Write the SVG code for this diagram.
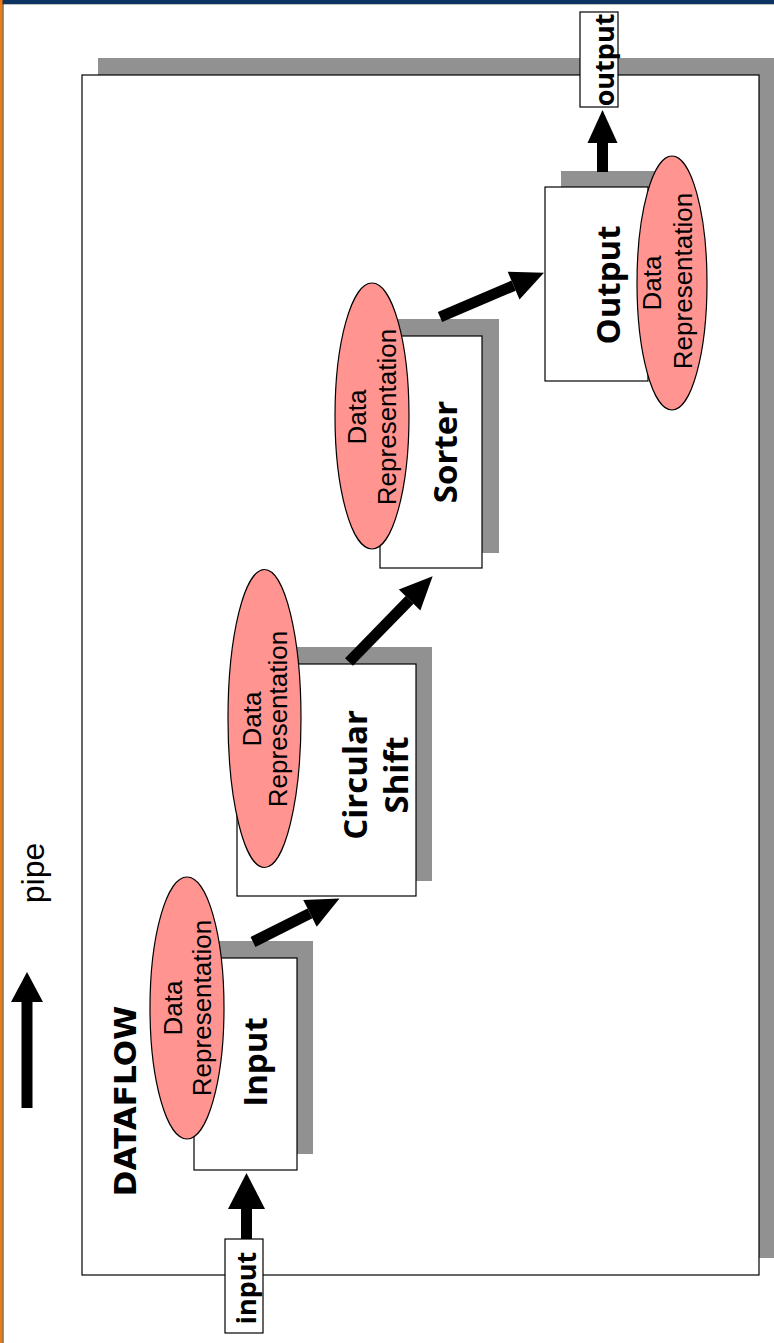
<svg xmlns="http://www.w3.org/2000/svg" width="774" height="1343" viewBox="0 0 774 1343">
<defs>
<style>
.shadow{fill:#919191}
.box{fill:#fff;stroke:#000;stroke-width:1.2}
.ell{fill:#ff9490;stroke:#000;stroke-width:1.2}
.dr{font-family:"Liberation Sans",Arial,sans-serif;font-size:26px;fill:#000;text-anchor:middle}
.nl{font-family:"Open Sans","DejaVu Sans",sans-serif;font-weight:bold;font-size:33px;fill:#000;text-anchor:middle}
.io{font-family:"Open Sans","DejaVu Sans",sans-serif;font-weight:bold;font-size:27px;fill:#000;text-anchor:middle}
.conn{stroke:#000;stroke-width:11;fill:none}
.lbl{fill:#fff;stroke:#000;stroke-width:1.2}
</style>
<marker id="ah" markerUnits="userSpaceOnUse" markerWidth="34" markerHeight="32" refX="0" refY="15" orient="auto" overflow="visible"><path d="M0,0 L33,15 L0,30 z" fill="#000"/></marker>
<marker id="ahL" markerUnits="userSpaceOnUse" markerWidth="37" markerHeight="38" refX="0" refY="18.5" orient="auto" overflow="visible"><path d="M0,0 L36,18.5 L0,37 z" fill="#000"/></marker>
</defs>
<rect x="0" y="0" width="774" height="1343" fill="#fff"/>
<g id="frame">
<rect x="0" y="0" width="774" height="4" fill="#0d3360"/>
<line x1="0" y1="4.5" x2="774" y2="4.5" stroke="#bdbdbd" stroke-width="1"/>
<rect x="0" y="0" width="2.5" height="1343" fill="#f07a10"/>
<line x1="3" y1="4" x2="3" y2="1343" stroke="#3a2a10" stroke-width="1"/>
</g>
<g id="dataflow">
<rect class="shadow" x="98" y="58" width="677" height="1200"/>
<rect x="82" y="75" width="677" height="1200" fill="#fff" stroke="#000" stroke-width="1.2"/>
<text transform="translate(136,1101) rotate(-90)" font-family="'DejaVu Sans',sans-serif" font-weight="bold" font-size="31" text-anchor="middle">DATAFLOW</text>
</g>
<g id="legend">
<line x1="27" y1="1108" x2="27" y2="1002" stroke="#000" stroke-width="11"/>
<path d="M11,1002 L43,1002 L27,972 z" fill="#000"/>
<text transform="translate(44,873) rotate(-90)" font-family="'Liberation Sans',Arial,sans-serif" font-size="32" text-anchor="middle">pipe</text>
</g>
<g id="node-input">
<rect class="shadow" x="210" y="941" width="103" height="213"/>
<rect class="box" x="194" y="958" width="103" height="212"/>
<ellipse class="ell" cx="187" cy="1008" rx="37" ry="131"/>
<text class="dr" transform="translate(182,1008) rotate(-90)">Data</text>
<text class="dr" transform="translate(211,1008) rotate(-90)">Representation</text>
<text class="nl" transform="translate(267,1062) rotate(-90)">Input</text>
</g>
<g id="node-circular-shift">
<rect class="shadow" x="253" y="647" width="179" height="234"/>
<rect class="box" x="237" y="664" width="179" height="232"/>
<ellipse class="ell" cx="264.5" cy="718.5" rx="36.5" ry="149"/>
<text class="dr" transform="translate(261,719) rotate(-90)">Data</text>
<text class="dr" transform="translate(287,719) rotate(-90)">Representation</text>
<text class="nl" transform="translate(367,775) rotate(-90)">Circular</text>
<text class="nl" transform="translate(408,775) rotate(-90)">Shift</text>
</g>
<g id="node-sorter">
<rect class="shadow" x="396" y="319" width="103" height="234"/>
<rect class="box" x="380" y="336" width="102" height="232"/>
<ellipse class="ell" cx="372" cy="416" rx="37" ry="133"/>
<text class="dr" transform="translate(366,417) rotate(-90)">Data</text>
<text class="dr" transform="translate(396,417) rotate(-90)">Representation</text>
<text class="nl" transform="translate(457,452) rotate(-90)">Sorter</text>
</g>
<g id="node-output">
<rect class="shadow" x="561" y="171" width="103" height="194"/>
<rect class="box" x="545" y="187" width="103" height="194"/>
<ellipse class="ell" cx="672" cy="283" rx="35" ry="127"/>
<text class="dr" transform="translate(661,283) rotate(-90)">Data</text>
<text class="dr" transform="translate(692,281) rotate(-90)">Representation</text>
<text class="nl" transform="translate(620,285) rotate(-90)">Output</text>
</g>
<g id="label-input">
<rect class="lbl" x="225" y="1239" width="38" height="94"/>
<text class="io" transform="translate(256,1288) rotate(-90)">input</text>
</g>
<g id="label-output">
<rect class="lbl" x="580" y="12" width="38" height="95"/>
<text class="io" transform="translate(614,60) rotate(-90)">output</text>
</g>
<g id="connectors">
<line class="conn" x1="246.5" y1="1239" x2="246.5" y2="1209" marker-end="url(#ahL)"/>
<line class="conn" x1="253" y1="942" x2="310" y2="913.4" marker-end="url(#ah)"/>
<line class="conn" x1="349" y1="662" x2="409.6" y2="599.9" marker-end="url(#ah)"/>
<line class="conn" x1="440" y1="317" x2="513.6" y2="285.6" marker-end="url(#ah)"/>
<line class="conn" x1="602.5" y1="172" x2="602.5" y2="143" marker-end="url(#ah)"/>
</g>
</svg>
